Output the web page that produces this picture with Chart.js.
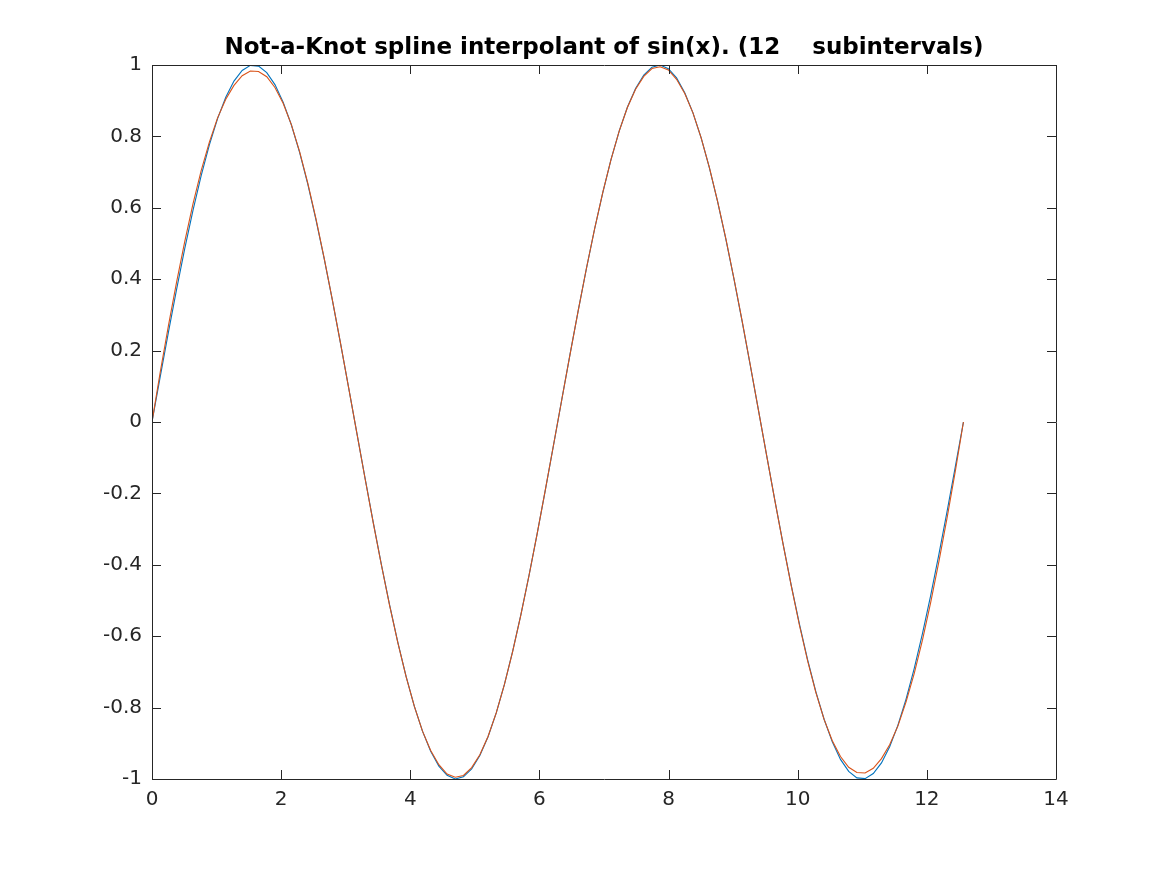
<!DOCTYPE html>
<html>
<head>
<meta charset="utf-8">
<script src="https://cdn.jsdelivr.net/npm/chart.js@4.4.1/dist/chart.umd.min.js"></script>
<style>
html, body { margin: 0; padding: 0; background: #fff; }
</style>
</head>
<body>
<canvas id="chart" width="1167" height="875"></canvas>
<script>
// sample points (0 .. 4*pi, 100 points)
var xValues = [
    0, 0.1269, 0.2539, 0.3808, 0.5077, 0.6347, 0.7616, 0.8885, 1.0155, 1.1424,
    1.2693, 1.3963, 1.5232, 1.6501, 1.7771, 1.9040, 2.0309, 2.1579, 2.2848, 2.4117,
    2.5387, 2.6656, 2.7925, 2.9195, 3.0464, 3.1733, 3.3003, 3.4272, 3.5541, 3.6811,
    3.8080, 3.9349, 4.0619, 4.1888, 4.3157, 4.4427, 4.5696, 4.6965, 4.8235, 4.9504,
    5.0773, 5.2043, 5.3312, 5.4581, 5.5851, 5.7120, 5.8389, 5.9659, 6.0928, 6.2197,
    6.3467, 6.4736, 6.6005, 6.7275, 6.8544, 6.9813, 7.1083, 7.2352, 7.3621, 7.4891,
    7.6160, 7.7429, 7.8699, 7.9968, 8.1237, 8.2507, 8.3776, 8.5045, 8.6315, 8.7584,
    8.8853, 9.0123, 9.1392, 9.2661, 9.3931, 9.5200, 9.6469, 9.7739, 9.9008, 10.0277,
    10.1547, 10.2816, 10.4085, 10.5355, 10.6624, 10.7893, 10.9163, 11.0432, 11.1701, 11.2971,
    11.4240, 11.5509, 11.6779, 11.8048, 11.9317, 12.0587, 12.1856, 12.3125, 12.4395, 12.5664
];

// sin(x) - blue
var sinValues = [
    0, 0.1266, 0.2511, 0.3717, 0.4862, 0.5929, 0.6901, 0.7761, 0.8497, 0.9096,
    0.9549, 0.9848, 0.9989, 0.9969, 0.9788, 0.9450, 0.8960, 0.8326, 0.7557, 0.6668,
    0.5670, 0.4582, 0.3420, 0.2203, 0.0951, -0.0317, -0.1580, -0.2817, -0.4009, -0.5137,
    -0.6182, -0.7127, -0.7958, -0.8660, -0.9224, -0.9639, -0.9898, -0.9999, -0.9938, -0.9718,
    -0.9342, -0.8817, -0.8150, -0.7350, -0.6428, -0.5406, -0.4298, -0.3120, -0.1893, -0.0634,
    0.0634, 0.1893, 0.3120, 0.4298, 0.5406, 0.6428, 0.7350, 0.8150, 0.8817, 0.9342,
    0.9718, 0.9938, 0.9999, 0.9898, 0.9639, 0.9224, 0.8660, 0.7958, 0.7127, 0.6182,
    0.5137, 0.4009, 0.2817, 0.1580, 0.0317, -0.0951, -0.2203, -0.3420, -0.4582, -0.5670,
    -0.6668, -0.7557, -0.8326, -0.8960, -0.9450, -0.9788, -0.9969, -0.9989, -0.9848, -0.9549,
    -0.9096, -0.8497, -0.7761, -0.6901, -0.5929, -0.4862, -0.3717, -0.2511, -0.1266, 0
];

// spline interpolant - orange
var splineValues = [
    0, 0.139, 0.269, 0.392, 0.506, 0.611, 0.704, 0.784, 0.852, 0.904,
    0.943, 0.970, 0.983, 0.982, 0.967, 0.937, 0.893, 0.833, 0.758, 0.670,
    0.570, 0.460, 0.343, 0.221, 0.095, -0.032, -0.159, -0.283, -0.402, -0.515,
    -0.619, -0.713, -0.796, -0.866, -0.920, -0.960, -0.986, -0.995, -0.990, -0.968,
    -0.932, -0.881, -0.815, -0.735, -0.643, -0.541, -0.430, -0.312, -0.189, -0.063,
    0.063, 0.189, 0.312, 0.430, 0.541, 0.643, 0.735, 0.815, 0.881, 0.932,
    0.968, 0.990, 0.995, 0.986, 0.960, 0.920, 0.866, 0.796, 0.713, 0.619,
    0.515, 0.402, 0.283, 0.159, 0.032, -0.095, -0.221, -0.343, -0.460, -0.570,
    -0.670, -0.758, -0.833, -0.893, -0.937, -0.967, -0.982, -0.983, -0.970, -0.943,
    -0.904, -0.852, -0.784, -0.704, -0.611, -0.506, -0.392, -0.269, -0.139, 0
];

var xTicks = [0, 2, 4, 6, 8, 10, 12, 14];
var xTickLabels = ['0', '2', '4', '6', '8', '10', '12', '14'];
var yTicks = [-1, -0.8, -0.6, -0.4, -0.2, 0, 0.2, 0.4, 0.6, 0.8, 1];
var yTickLabels = ['-1', '-0.8', '-0.6', '-0.4', '-0.2', '0', '0.2', '0.4', '0.6', '0.8', '1'];

var titleText = 'Not-a-Knot spline interpolant of sin(x). (12    subintervals)';

var axisColor = '#262626';
var tickFont = { family: 'DejaVu Sans', size: 20 };

function toPoints(xs, ys) {
    var pts = [];
    for (var i = 0; i < xs.length; i++) {
        pts.push({x: xs[i], y: ys[i]});
    }
    return pts;
}

// title centred over the plot box (MATLAB style)
var titlePlugin = {
    id: 'boxTitle',
    afterDraw: function(chart) {
        var ctx = chart.ctx;
        var a = chart.chartArea;
        ctx.save();
        ctx.fillStyle = '#000';
        ctx.font = 'bold 23px "DejaVu Sans"';
        ctx.textAlign = 'center';
        ctx.textBaseline = 'alphabetic';
        ctx.fillText(titleText, (a.left + a.right) / 2, 54);
        ctx.restore();
    }
};

// draws the axes box and inward ticks on all four sides
var boxPlugin = {
    id: 'box',
    afterDraw: function(chart) {
        var ctx = chart.ctx;
        var a = chart.chartArea;
        var xs = chart.scales.x, ys = chart.scales.y;
        var len = 9;
        ctx.save();
        ctx.strokeStyle = axisColor;
        ctx.lineWidth = 1;
        ctx.beginPath();
        ctx.rect(Math.round(a.left) + 0.5, Math.round(a.top) + 0.5,
                 Math.round(a.right - a.left), Math.round(a.bottom - a.top));
        xTicks.forEach(function(v) {
            var px = Math.round(xs.getPixelForValue(v)) + 0.5;
            ctx.moveTo(px, a.bottom); ctx.lineTo(px, a.bottom - len);
            ctx.moveTo(px, a.top); ctx.lineTo(px, a.top + len);
        });
        yTicks.forEach(function(v) {
            var py = Math.round(ys.getPixelForValue(v)) + 0.5;
            ctx.moveTo(a.left, py); ctx.lineTo(a.left + len, py);
            ctx.moveTo(a.right, py); ctx.lineTo(a.right - len, py);
        });
        ctx.stroke();
        ctx.restore();
    }
};

var ctx = document.getElementById('chart').getContext('2d');
var chart = new Chart(ctx, {
    type: 'line',
    data: {
        datasets: [{
            data: toPoints(xValues, sinValues),
            borderColor: '#0072BD',
            borderWidth: 1.1,
            pointRadius: 0,
            tension: 0,
            fill: false,
            order: 2   // drawn first, under the spline
        }, {
            data: toPoints(xValues, splineValues),
            borderColor: '#D95319',
            borderWidth: 1.1,
            pointRadius: 0,
            tension: 0,
            fill: false,
            order: 1
        }]
    },
    options: {
        responsive: false,
        animation: false,
        devicePixelRatio: 1,
        layout: { padding: { left: 0, right: 111, top: 65, bottom: 0 } },
        plugins: {
            legend: { display: false },
            tooltip: { enabled: false },
            title: { display: false }
        },
        scales: {
            x: {
                type: 'linear',
                min: 0,
                max: 14,
                afterBuildTicks: function(s) { s.ticks = xTicks.map(function(v) { return {value: v}; }); },
                afterFit: function(s) { s.height = 96; },
                grid: { display: false, drawTicks: false },
                border: { display: false },
                ticks: {
                    padding: 9,
                    color: axisColor,
                    font: tickFont,
                    maxRotation: 0,
                    callback: function(v) { return xTickLabels[xTicks.indexOf(v)]; }
                }
            },
            y: {
                type: 'linear',
                min: -1,
                max: 1,
                afterBuildTicks: function(s) { s.ticks = yTicks.map(function(v) { return {value: v}; }); },
                afterFit: function(s) { s.width = 152; },
                grid: { display: false, drawTicks: false },
                border: { display: false },
                ticks: {
                    padding: 10,
                    color: axisColor,
                    font: tickFont,
                    callback: function(v) {
                        var i = yTicks.findIndex(function(t) { return Math.abs(t - v) < 1e-9; });
                        return yTickLabels[i];
                    }
                }
            }
        }
    },
    plugins: [boxPlugin, titlePlugin]
});
</script>
</body>
</html>
